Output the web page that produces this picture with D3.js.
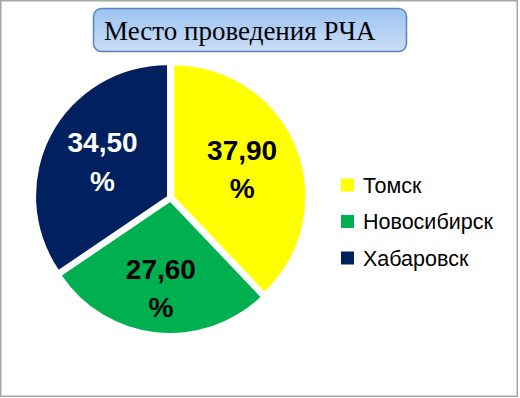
<!DOCTYPE html>
<html>
<head>
<meta charset="utf-8">
<script src="https://cdn.jsdelivr.net/npm/d3@7"></script>
<style>
  body { margin: 0; background: #fff; }
</style>
</head>
<body>
<div id="chart"></div>
<script>
// chart data
var cities = ["Томск", "Новосибирск", "Хабаровск"];
var shares = [37.9, 27.6, 34.5];
var labels = ["37,90", "27,60", "34,50"];
var colors = ["#ffff00", "#00b050", "#002060"];
var labelColors = ["#000000", "#000000", "#ffffff"];
var title = "Место проведения РЧА";

var svgWidth = 520;
var svgHeight = 398;

var svg = d3.select("#chart")
  .append("svg")
  .attr("width", svgWidth)
  .attr("height", svgHeight);

// gradient for the title box
var grad = svg.append("defs")
  .append("linearGradient")
  .attr("id", "titleGrad")
  .attr("x1", 0).attr("y1", 0)
  .attr("x2", 0).attr("y2", 1);
grad.append("stop").attr("offset", "0%").attr("stop-color", "#9dc3f2");
grad.append("stop").attr("offset", "100%").attr("stop-color", "#c9ddf6");

// outer frame
svg.append("rect")
  .attr("x", 0.75)
  .attr("y", 0.75)
  .attr("width", 516.5)
  .attr("height", 395.5)
  .attr("fill", "#fff")
  .attr("stroke", "#a6a6a6")
  .attr("stroke-width", 1.5);

// title box
svg.append("rect")
  .attr("x", 93.5)
  .attr("y", 8.5)
  .attr("width", 313)
  .attr("height", 43)
  .attr("rx", 8)
  .attr("fill", "url(#titleGrad)")
  .attr("stroke", "#5a84b8")
  .attr("stroke-width", 1.5);

svg.append("text")
  .attr("x", 104)
  .attr("y", 40)
  .attr("font-family", "'Liberation Serif', 'Times New Roman', serif")
  .attr("font-size", 27)
  .attr("fill", "#000")
  .text(title);

// pie
var radius = 131;
var explode = 4;
// label distance from the centre, per slice (excel puts them a bit differently)
var labelDist = [73, 87, 73];

var pie = d3.pie()
  .sort(null)
  .value(d => d);

var arc = d3.arc()
  .innerRadius(0)
  .outerRadius(radius);

var pieGroup = svg.append("g")
  .attr("transform", "translate(170.6, 198)");

var slices = pieGroup.selectAll("g.slice")
  .data(pie(shares))
  .enter()
  .append("g")
  .attr("class", "slice")
  .attr("transform", function(d) {
    var a = (d.startAngle + d.endAngle) / 2;
    return `translate(${explode * Math.sin(a)}, ${-explode * Math.cos(a)})`;
  });

slices.append("path")
  .attr("d", arc)
  .attr("fill", (d, i) => colors[i]);

var labelText = slices.append("text")
  .attr("transform", function(d, i) {
    var c = d3.arc().innerRadius(labelDist[i]).outerRadius(labelDist[i]).centroid(d);
    return `translate(${c})`;
  })
  .attr("text-anchor", "middle")
  .attr("font-family", "'Liberation Sans', Arial, sans-serif")
  .attr("font-weight", "bold")
  .attr("font-size", 28)
  .attr("fill", (d, i) => labelColors[i]);

labelText.append("tspan")
  .attr("x", 0)
  .attr("y", -9.5)
  .text((d, i) => labels[i]);

labelText.append("tspan")
  .attr("x", 0)
  .attr("y", 29)
  .text("%");

// legend
var legend = svg.append("g")
  .attr("transform", "translate(341, 185)");

var legendItems = legend.selectAll("g")
  .data(cities)
  .enter()
  .append("g")
  .attr("transform", (d, i) => `translate(0, ${i * 36.5})`);

legendItems.append("rect")
  .attr("x", 0)
  .attr("y", -6.5)
  .attr("width", 13)
  .attr("height", 13)
  .attr("fill", (d, i) => colors[i]);

legendItems.append("text")
  .attr("x", 22)
  .attr("y", 7.5)
  .attr("font-family", "'Liberation Sans', Arial, sans-serif")
  .attr("font-size", 21.5)
  .attr("fill", "#000")
  .text(d => d);
</script>
</body>
</html>
